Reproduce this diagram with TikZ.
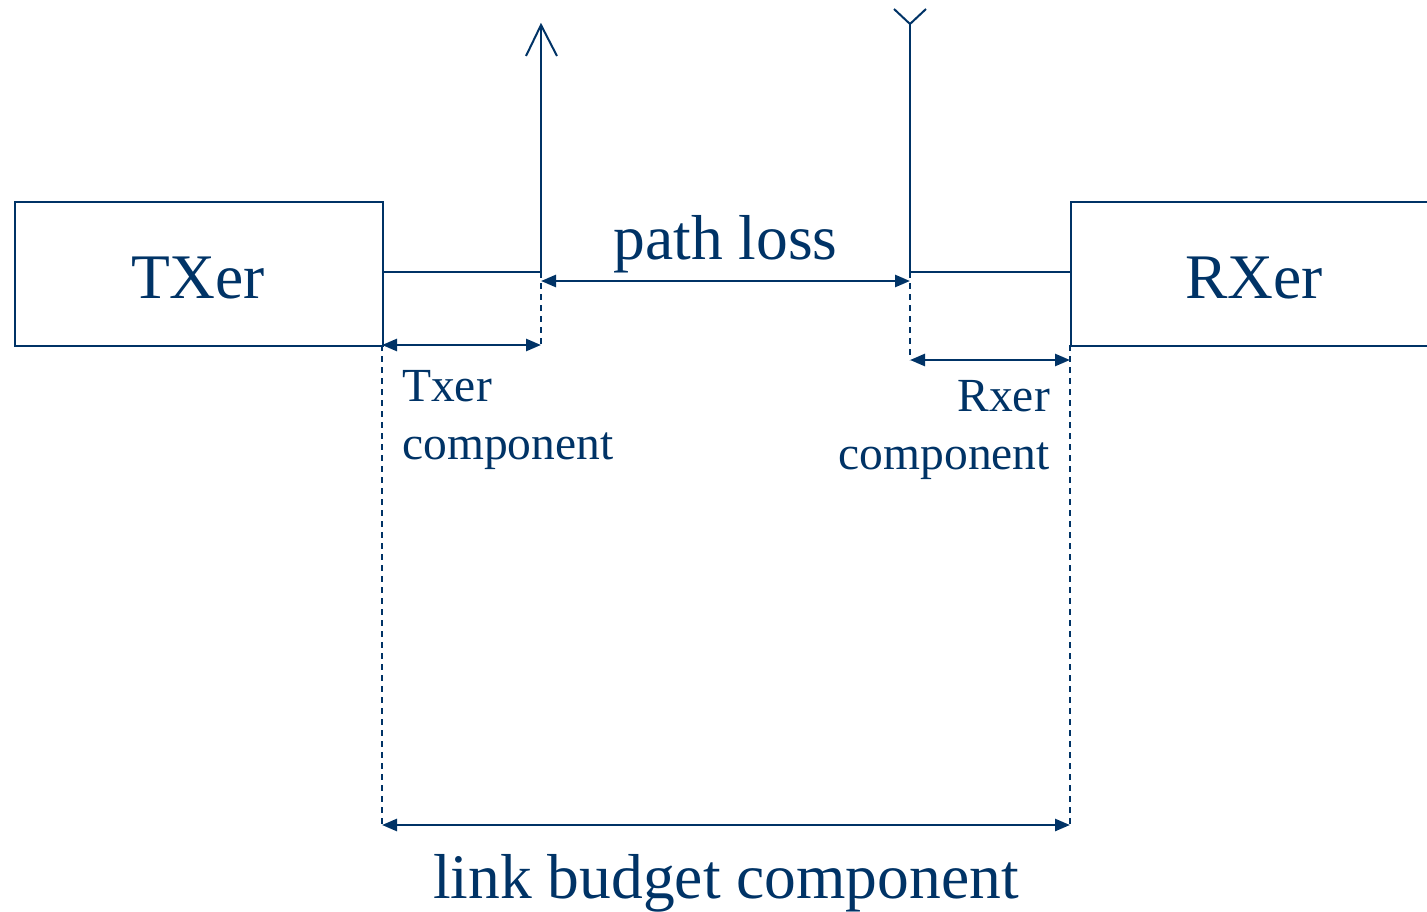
\documentclass[tikz,border=0pt]{standalone}
\usepackage{fontspec}
\setmainfont{Liberation Serif}
\usetikzlibrary{arrows.meta}
\definecolor{navy}{RGB}{0,51,102}
\begin{document}
\begin{tikzpicture}[x=1pt,y=-1pt,
  every path/.style={},
  lineS/.style={draw=navy,line width=2pt},
  dashS/.style={draw=navy,line width=2pt,dash pattern=on 6pt off 5pt},
  dimS/.style={draw=navy,line width=2.6pt,{Triangle[length=15pt,width=12pt]}-{Triangle[length=15pt,width=12pt]}},
  bigT/.style={text=navy,font=\fontsize{63.5}{70}\selectfont,inner sep=0pt},
  smallT/.style={text=navy,font=\fontsize{47.5}{52}\selectfont,inner sep=0pt}]
\useasboundingbox (0,0) rectangle (1427,912);
% boxes
\node[lineS,minimum width=368pt,minimum height=144pt,anchor=north west,inner sep=0pt] (tx) at (14,201) {};
\node[lineS,minimum width=400pt,minimum height=144pt,anchor=north west,inner sep=0pt] (rx) at (1070,201) {};
\node[bigT,anchor=base] (txl) at (198,298) {TXer};
\node[bigT,anchor=base] (rxl) at (1254,298) {RXer};
% coordinates
\coordinate (txo) at (382,272);
\coordinate (txc) at (541,272);
\coordinate (txa) at (541,25);
\coordinate (txal) at (526,56);
\coordinate (txar) at (557,56);
\coordinate (rxo) at (1070,272);
\coordinate (rxc) at (910,272);
\coordinate (rxa) at (910,24);
\coordinate (rxal) at (894,9);
\coordinate (rxar) at (926,9);
\coordinate (txd) at (541,345);
\coordinate (rxd) at (910,360);
\coordinate (rxd2) at (1070,360);
\coordinate (txbl) at (382,345);
\coordinate (lbl) at (382,825);
\coordinate (lbr) at (1070,825);
\coordinate (rxbl) at (1070,345);
\coordinate (plL) at (541,281);
\coordinate (plR) at (910,281);
% feed lines and antennas
\draw[lineS] (txo) -- (txc) -- (txa);
\draw[lineS] (txal) -- (txa) -- (txar);
\draw[lineS] (rxo) -- (rxc) -- (rxa);
\draw[lineS] (rxal) -- (rxa) -- (rxar);
% dashed
\draw[dashS] (txc) -- (txd);
\draw[dashS] (rxc) -- (rxd);
\draw[dashS] (txbl) -- (lbl);
\draw[dashS] (rxbl) -- (lbr);
% dimension arrows
\draw[dimS] (plL) -- (plR);
\draw[dimS] (txbl) -- (txd);
\draw[dimS] (rxd) -- (rxd2);
\draw[dimS] (lbl) -- (lbr);
% labels
\node[bigT,anchor=base] (pl) at (725.5,259) {path loss};
\node[bigT,anchor=base] (lb) at (726,898) {link budget component};
\node[smallT,anchor=base west] (t1) at (402,401) {Txer};
\node[smallT,anchor=base west] (t2) at (402,459) {component};
\node[smallT,anchor=base east] (r1) at (1050,411) {Rxer};
\node[smallT,anchor=base east] (r2) at (1050,469) {component};
\end{tikzpicture}
\end{document}
